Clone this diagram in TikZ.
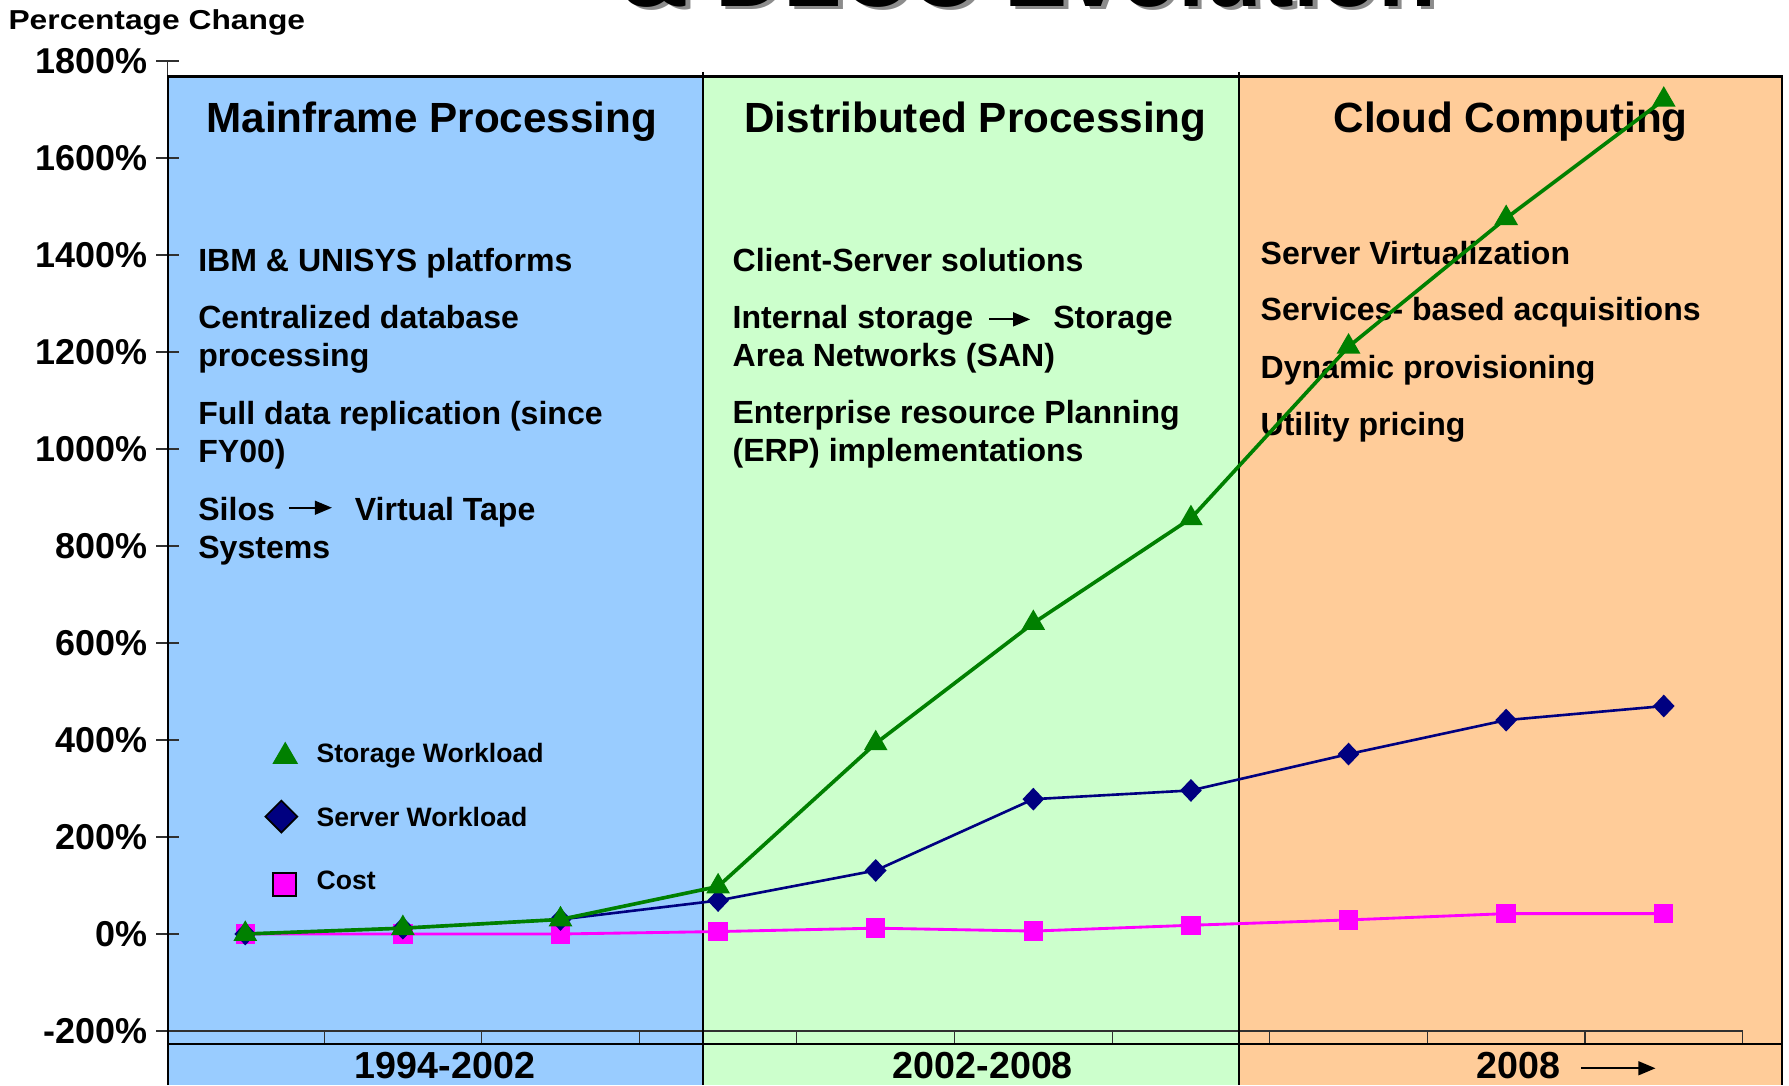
\documentclass[tikz,border=0pt]{standalone}
\usepackage{graphicx}
\usepackage{fontspec}
\setmainfont{Liberation Sans}
\usetikzlibrary{shapes.geometric,arrows.meta}

\definecolor{panelblue}{HTML}{99CCFF}
\definecolor{panelgreen}{HTML}{CCFFCC}
\definecolor{panelorange}{HTML}{FFCC99}
\definecolor{stgreen}{HTML}{008000}
\definecolor{srvnavy}{HTML}{000080}
\definecolor{costpink}{HTML}{FF00FF}
\definecolor{axisgray}{HTML}{303030}

\tikzset{
  every node/.style={inner sep=0pt, outer sep=0pt},
  bodytext/.style={anchor=base west, font=\fontsize{28.1}{34}\selectfont\bfseries},
  phasetitle/.style={anchor=base, font=\fontsize{37}{44}\selectfont\bfseries},
  ytext/.style={anchor=east, font=\fontsize{31.5}{38}\selectfont\bfseries},
  xtext/.style={anchor=base, font=\fontsize{33}{40}\selectfont\bfseries},
  legendtext/.style={anchor=base west, font=\fontsize{23.3}{28}\selectfont\bfseries},
  bigtitle/.style={anchor=base west, font=\fontsize{83}{90}\selectfont\bfseries},
  panelborder/.style={line width=2pt, black},
  axistick/.style={line width=1pt, axisgray},
  textarrow/.style={line width=2pt, -{Triangle[length=15pt,width=12pt]}},
  storageline/.style={stgreen, line width=3.2pt, line join=round},
  serverline/.style={srvnavy, line width=2.3pt, line join=round},
  costline/.style={costpink, line width=2.5pt, line join=round},
  trimark/.style={regular polygon, regular polygon sides=3, fill=stgreen, minimum size=24pt},
  diamark/.style={diamond, fill=srvnavy, minimum width=19pt, minimum height=20pt},
  sqmark/.style={rectangle, fill=costpink, minimum size=17pt},
}

\begin{document}
\begin{tikzpicture}[x=1pt,y=-1pt]
\useasboundingbox (0,0) rectangle (1568,951);
\clip (0,0) rectangle (1568,951);

% slide heading, mostly above the visible area
\node[bigtitle, text=black!45] (headshadow) at (548,8.5) {\& DLCC Evolution};
\node[bigtitle, text=black] (head) at (544,6) {\& DLCC Evolution};

% era panels
\fill[panelblue]   (147,67) rectangle (616,951);
\fill[panelgreen]  (616,67) rectangle (1086,951);
\fill[panelorange] (1086,67) rectangle (1562,951);

% value axis
\draw[axistick] (147,53.5) -- (147,903.6);
\foreach \v in {-200,0,...,1800} {
  \draw[axistick] (137,{818.6-0.42506*\v}) -- (157,{818.6-0.42506*\v});
  \node[ytext] (yl\v) at (129,{818.6-0.42506*\v}) {\v\%};
}
% category axis
\draw[axistick] (137,903.6) -- (1527.3,903.6);
\foreach \k in {1,...,10}
  \draw[axistick] ({145.9+138.14*\k},903.6) -- ++(0,11.4);

% panel frames
\draw[panelborder] (147,951) -- (147,67) -- (1562,67) -- (1562,951);
\draw[panelborder] (616,63) -- (616,951);
\draw[panelborder] (1086,63) -- (1086,951);
\draw[panelborder] (147,915) -- (1562,915);

\node[anchor=base west, font=\fontsize{24}{29}\selectfont\bfseries] (ycaption) at (7.5,25.5)
  {\scalebox{1.16}[1]{Percentage Change}};

% panel headings
\node[phasetitle] (t1) at (378.5,116.3) {Mainframe Processing};
\node[phasetitle] (t2) at (855,116.3) {Distributed Processing};
\node[phasetitle] (t3) at (1324,116.3) {Cloud Computing};

% mainframe era notes
\node[bodytext] (m1)  at (173.8,238.1) {IBM \& UNISYS platforms};
\node[bodytext] (m2)  at (173.8,287.8) {Centralized database};
\node[bodytext] (m2b) at (173.8,320.8) {processing};
\node[bodytext] (m3)  at (173.8,371.9) {Full data replication (since};
\node[bodytext] (m3b) at (173.8,405.2) {FY00)};
\node[bodytext] (m4)  at (173.8,455.8) {Silos};
\node[bodytext] (m4r) at (311,455.8) {Virtual Tape};
\node[bodytext] (m4b) at (173.8,489.3) {Systems};
\coordinate (silosA) at (253.6,445);
\coordinate (silosB) at (291,445);
\draw[textarrow] (silosA) -- (silosB);

% distributed era notes
\node[bodytext] (d1)  at (642.1,238.1) {Client-Server solutions};
\node[bodytext] (d2)  at (642.1,287.8) {Internal storage};
\node[bodytext] (d2r) at (923.2,287.8) {Storage};
\node[bodytext] (d2b) at (642.1,321.4) {Area Networks (SAN)};
\node[bodytext] (d3)  at (642.1,371) {Enterprise resource Planning};
\node[bodytext] (d3b) at (642.1,404.6) {(ERP) implementations};
\coordinate (sanA) at (867,279.9);
\coordinate (sanB) at (903,279.9);
\draw[textarrow] (sanA) -- (sanB);

% cloud era notes
\node[bodytext] (c1) at (1104.9,231.4) {Server Virtualization};
\node[bodytext] (c2) at (1104.9,281) {Services- based acquisitions};
\node[bodytext] (c3) at (1104.9,331.6) {Dynamic provisioning};
\node[bodytext] (c4) at (1104.9,381.3) {Utility pricing};

% era labels under the axis
\node[xtext] (e1) at (390,945.6) {1994-2002};
\node[xtext] (e2) at (861.5,945.6) {2002-2008};
\node[xtext, anchor=base west] (e3) at (1294.5,945.6) {2008};
\coordinate (yrA) at (1386,936.3);
\coordinate (yrB) at (1451,936.3);
\draw[textarrow] (yrA) -- (yrB);

% data points
\foreach \v [count=\i] in {0,12,30,98,393,641,857,1211,1476,1720}
  \coordinate (s\i) at ({214.97+138.14*(\i-1)},{818.6-0.42506*\v});
\foreach \v [count=\i] in {0,12,30,69,131,278,296,371,441,470}
  \coordinate (v\i) at ({214.97+138.14*(\i-1)},{818.6-0.42506*\v});
\foreach \v [count=\i] in {0,0,0,5,12,6,18,29,42,42}
  \coordinate (c\i) at ({214.97+138.14*(\i-1)},{818.6-0.42506*\v});

% cost series
\draw[costline] (c1) \foreach \i in {2,...,10} { -- (c\i) };
\foreach \i in {1,...,10} \node[sqmark] (cm\i) at (c\i) {};
% server workload series
\draw[serverline] (v1) \foreach \i in {2,...,10} { -- (v\i) };
\foreach \i in {1,...,10} \node[diamark] (vm\i) at (v\i) {};
% storage workload series
\draw[storageline] (s1) \foreach \i in {2,...,10} { -- (s\i) };
\foreach \i in {1,...,10} \node[trimark] (sm\i) at (s\i) {};

% legend
\node[trimark, minimum size=26pt] (legtri) at (250,663) {};
\node[diamark, draw=black, line width=1.5pt, minimum width=28pt, minimum height=28pt] (legdia) at (246.6,715.7) {};
\node[sqmark, draw=black, line width=1.5pt, minimum size=20pt] (legsq) at (249.2,775.4) {};
\node[legendtext] (lt1) at (277.5,668.4) {Storage Workload};
\node[legendtext] (lt2) at (277.5,724) {Server Workload};
\node[legendtext] (lt3) at (277.5,780) {Cost};
\end{tikzpicture}
\end{document}
